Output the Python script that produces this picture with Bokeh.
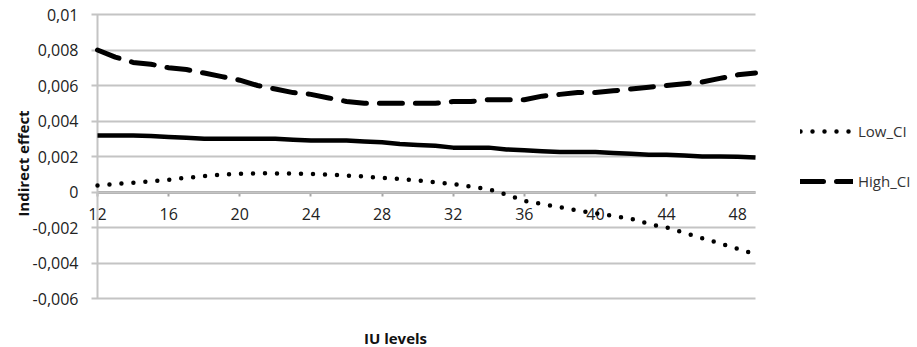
import math
from bokeh.plotting import figure
from bokeh.models import (Range1d, FixedTicker, Legend, LegendItem, Label)
from bokeh.embed import file_html
from bokeh.resources import INLINE

# ---- data ----
iu = [12, 13, 14, 15, 16, 17, 18, 19, 20, 21, 22, 23, 24, 25, 26, 27, 28, 29, 30,
      31, 32, 33, 34, 35, 36, 37, 38, 39, 40, 41, 42, 43, 44, 45, 46, 47, 48, 49]

effect = [0.00318, 0.00318, 0.00318, 0.00315, 0.0031, 0.00305, 0.0030, 0.0030, 0.0030,
          0.0030, 0.0030, 0.00295, 0.0029, 0.0029, 0.0029, 0.00285, 0.0028, 0.0027,
          0.00265, 0.0026, 0.0025, 0.0025, 0.0025, 0.0024, 0.00235, 0.0023, 0.00225,
          0.00225, 0.00225, 0.0022, 0.00215, 0.0021, 0.0021, 0.00205, 0.0020, 0.0020,
          0.00198, 0.00195]

low_ci = [0.00037, 0.00045, 0.00052, 0.0006, 0.00069, 0.0008, 0.0009, 0.00098, 0.00103,
          0.00105, 0.00105, 0.00104, 0.00102, 0.00098, 0.00093, 0.00087, 0.0008, 0.00073,
          0.00065, 0.00055, 0.00045, 0.0003, 0.00015, -0.00015, -0.0005, -0.00068, -0.00085,
          -0.00105, -0.0012, -0.00135, -0.0015, -0.0018, -0.002, -0.0023, -0.0026,
          -0.0029, -0.0032, -0.0035]

high_ci = [0.0080, 0.0076, 0.0073, 0.0072, 0.0070, 0.0069, 0.0067, 0.0065, 0.0063, 0.0060,
           0.0058, 0.0056, 0.0055, 0.0053, 0.0051, 0.0050, 0.0050, 0.0050, 0.0050, 0.0050,
           0.0051, 0.0051, 0.0052, 0.0052, 0.0052, 0.0054, 0.0055, 0.0056, 0.0056, 0.0057,
           0.0058, 0.0059, 0.0060, 0.0061, 0.0062, 0.0064, 0.0066, 0.0067]

x_ticks = [12, 16, 20, 24, 28, 32, 36, 40, 44, 48]
y_ticks = [-0.006, -0.004, -0.002, 0, 0.002, 0.004, 0.006, 0.008, 0.01]
y_tick_labels = ["-0,006", "-0,004", "-0,002", "0", "0,002", "0,004", "0,006", "0,008", "0,01"]

series_names = ["Low_CI", "High_CI"]
x_title = "IU levels"
y_title = "Indirect effect"

# ---- layout (pixels) ----
W, H = 917, 347
PLOT_L, PLOT_R = 97, 755        # plotting area inside the canvas
PLOT_T, PLOT_B = 14, 298
X0, X1 = 12, 49
Y0, Y1 = -0.006, 0.01
px_x = (PLOT_R - PLOT_L) / (X1 - X0)
px_y = (PLOT_B - PLOT_T) / (Y1 - Y0)

FONT = "Open Sans"
GRID = "#c4c4c4"
AXIS = "#a6a6a6"

p = figure(frame_width=W, frame_height=H, output_backend="svg", toolbar_location=None,
           x_range=Range1d(X0 - PLOT_L / px_x, X1 + (W - PLOT_R) / px_x),
           y_range=Range1d(Y0 - (H - PLOT_B) / px_y, Y1 + PLOT_T / px_y),
           min_border=0, min_border_left=0, min_border_right=0,
           min_border_top=0, min_border_bottom=0)
p.outline_line_color = None
p.background_fill_color = "white"
p.border_fill_color = "white"
p.xgrid.visible = False
p.ygrid.visible = False

# y axis at x = 12; its long inward ticks act as the horizontal gridlines
p.yaxis.fixed_location = X0
p.yaxis.bounds = (Y0, Y1)
p.yaxis.level = "underlay"
p.yaxis.ticker = FixedTicker(ticks=y_ticks)
p.yaxis.major_label_overrides = {t: l for t, l in zip(y_ticks, y_tick_labels)}
p.yaxis.axis_line_color = GRID
p.yaxis.axis_line_width = 2
p.yaxis.major_tick_line_color = GRID
p.yaxis.major_tick_line_width = 2
p.yaxis.major_tick_out = 6
p.yaxis.major_tick_in = PLOT_R - PLOT_L
p.yaxis.minor_tick_line_color = None
p.yaxis.major_label_standoff = 13
p.yaxis.major_label_text_font = FONT
p.yaxis.major_label_text_font_size = "16px"
p.yaxis.major_label_text_color = "#222222"

# x axis on the zero line
p.xaxis.fixed_location = 0
p.xaxis.bounds = (X0, X1)
p.xaxis.level = "underlay"
p.xaxis.ticker = FixedTicker(ticks=x_ticks)
p.xaxis.axis_line_color = AXIS
p.xaxis.axis_line_width = 3
p.xaxis.major_tick_line_color = AXIS
p.xaxis.major_tick_line_width = 2
p.xaxis.major_tick_out = 4
p.xaxis.major_tick_in = 0
p.xaxis.minor_tick_line_color = None
p.xaxis.major_label_standoff = 12
p.xaxis.major_label_text_font = FONT
p.xaxis.major_label_text_font_size = "16px"
p.xaxis.major_label_text_color = "#222222"

# lines
p.line(iu, effect, line_color="black", line_width=4.5)
r_low = p.line(iu, low_ci, line_color="black", line_width=4.5,
               line_dash="0 12", line_cap="round")
r_high = p.line(iu, high_ci, line_color="black", line_width=5,
                line_dash="23 13", line_cap="round")

legend = Legend(items=[LegendItem(label=series_names[0], renderers=[r_low]),
                       LegendItem(label=series_names[1], renderers=[r_high])],
                location=(800, 156), orientation="vertical",
                glyph_width=53, glyph_height=20, label_height=20, spacing=30,
                label_standoff=5, padding=0, margin=0,
                background_fill_alpha=0, border_line_color=None,
                label_text_font=FONT, label_text_font_size="15px",
                label_text_color="#333333")
p.add_layout(legend, "center")

p.add_layout(Label(x=395, y=10, x_units="screen", y_units="screen", text=x_title,
                   text_font=FONT, text_font_size="15px", text_font_style="bold",
                   text_color="#111111", text_align="center", text_baseline="middle"))
p.add_layout(Label(x=22, y=184, x_units="screen", y_units="screen", text=y_title,
                   angle=math.pi / 2,
                   text_font=FONT, text_font_size="15px", text_font_style="bold",
                   text_color="#111111", text_align="center", text_baseline="middle"))

open("out.html", "w").write(file_html(p, INLINE))
